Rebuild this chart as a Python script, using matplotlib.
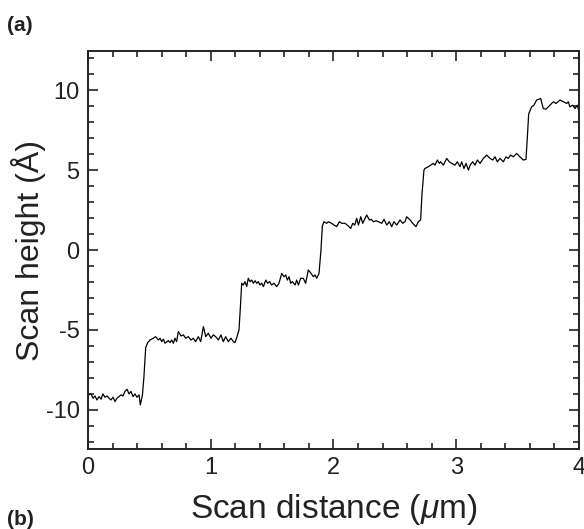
import matplotlib
matplotlib.use("Agg")
import matplotlib.pyplot as plt
from matplotlib.ticker import MultipleLocator

plt.rcParams['font.family'] = ['Liberation Sans', 'DejaVu Sans']
plt.rcParams['mathtext.fontset'] = 'custom'
plt.rcParams['mathtext.rm'] = 'Liberation Sans'
plt.rcParams['mathtext.it'] = 'Liberation Sans:italic'
plt.rcParams['axes.unicode_minus'] = False

# Scan profile (distance in um, height in Angstrom)
scan_distance = [
    0.000, 0.008, 0.024, 0.041, 0.057, 0.073, 0.090, 0.106, 0.122, 0.138,
    0.155, 0.171, 0.187, 0.204, 0.220, 0.236, 0.253, 0.269, 0.285, 0.301,
    0.318, 0.334, 0.350, 0.367, 0.383, 0.399, 0.416, 0.426, 0.443, 0.455,
    0.470, 0.486,
    0.505, 0.532, 0.551, 0.573, 0.587, 0.600, 0.614, 0.627, 0.655, 0.668,
    0.682, 0.695, 0.709, 0.722, 0.736, 0.758, 0.777, 0.796, 0.817, 0.839,
    0.858, 0.877, 0.899, 0.918, 0.940, 0.959, 0.980, 1.002, 1.021, 1.040,
    1.062, 1.083, 1.102, 1.122, 1.143, 1.165, 1.184, 1.198, 1.214, 1.230,
    1.242,
    1.252, 1.265, 1.279, 1.293, 1.306, 1.320, 1.334, 1.347, 1.361, 1.374,
    1.388, 1.401, 1.415, 1.429, 1.448, 1.464, 1.480, 1.496, 1.516, 1.537,
    1.556, 1.578, 1.597, 1.611, 1.624, 1.638, 1.651, 1.665, 1.687, 1.700,
    1.714, 1.733, 1.754, 1.773, 1.795, 1.817, 1.836, 1.850, 1.863, 1.882,
    1.898, 1.909,
    1.923, 1.944, 1.958, 1.972, 1.985, 2.004, 2.026, 2.048, 2.067, 2.094,
    2.121, 2.140, 2.157, 2.173, 2.189, 2.203, 2.222, 2.238, 2.257, 2.271,
    2.292, 2.308, 2.325, 2.347, 2.366, 2.393, 2.412, 2.434, 2.455, 2.474,
    2.493, 2.515, 2.542, 2.564, 2.583, 2.596, 2.624, 2.645, 2.672, 2.691,
    2.710, 2.721,
    2.737, 2.745, 2.773, 2.792, 2.813, 2.827, 2.846, 2.862, 2.873, 2.895,
    2.922, 2.943, 2.963, 2.990, 3.009, 3.031, 3.044, 3.063, 3.080, 3.099,
    3.113, 3.134, 3.153, 3.172, 3.194, 3.221, 3.248, 3.275, 3.297, 3.316,
    3.335, 3.357, 3.384, 3.405, 3.424, 3.443, 3.465, 3.492, 3.519, 3.546,
    3.568, 3.579, 3.590,
    3.614, 3.633, 3.655, 3.688, 3.709, 3.731, 3.764, 3.791, 3.813, 3.845,
    3.873, 3.900, 3.913, 3.927, 3.949, 3.968, 3.987, 4.000,
]
scan_height = [
    -8.92, -9.06, -9.00, -9.27, -9.13, -9.38, -9.17, -9.33, -9.00, -9.21,
    -9.13, -9.27, -9.38, -9.21, -9.48, -9.27, -9.17, -9.06, -9.13, -8.85,
    -8.71, -9.00, -8.85, -9.17, -9.00, -9.21, -9.06, -9.69, -9.10, -8.00,
    -6.10, -5.80,
    -5.63, -5.52, -5.42, -5.63, -5.52, -5.73, -5.58, -5.83, -5.67, -5.79,
    -5.63, -5.83, -5.52, -5.73, -5.10, -5.38, -5.31, -5.52, -5.42, -5.63,
    -5.52, -5.73, -5.42, -5.73, -4.79, -5.42, -5.21, -5.52, -5.31, -5.42,
    -5.63, -5.31, -5.73, -5.42, -5.73, -5.52, -5.73, -5.79, -5.42, -5.00,
    -3.50,
    -2.08, -2.19, -1.98, -2.29, -1.77, -1.98, -1.88, -2.08, -1.92, -2.08,
    -1.98, -2.19, -2.08, -2.29, -1.88, -2.08, -1.98, -2.19, -2.08, -2.29,
    -2.08, -1.46, -1.67, -1.56, -1.88, -1.67, -2.08, -1.98, -2.19, -1.88,
    -2.19, -1.77, -1.77, -2.08, -1.25, -1.46, -1.67, -1.56, -1.77, -1.46,
    0.00, 1.50,
    1.77, 1.67, 1.77, 1.71, 1.67, 1.56, 1.46, 1.77, 1.67, 1.67,
    1.50, 1.35, 1.67, 1.56, 1.98, 1.56, 2.08, 1.67, 1.98, 2.19,
    1.88, 1.92, 1.77, 1.83, 1.77, 1.67, 1.92, 1.56, 1.77, 1.46,
    1.77, 1.56, 1.88, 1.67, 1.77, 2.08, 1.88, 1.67, 1.46, 1.77,
    1.88, 3.50,
    5.00, 5.10, 5.21, 5.31, 5.42, 5.31, 5.63, 5.42, 5.52, 5.31,
    5.73, 5.52, 5.42, 5.31, 5.52, 5.21, 5.52, 5.10, 5.42, 5.00,
    5.31, 5.52, 5.31, 5.63, 5.42, 5.73, 5.94, 5.73, 5.63, 5.83,
    5.52, 5.73, 5.52, 5.83, 5.73, 5.94, 5.83, 6.04, 5.83, 5.63,
    5.67, 7.00, 8.50,
    8.96, 9.06, 9.38, 9.48, 8.85, 8.81, 9.06, 9.27, 9.17, 9.38,
    9.27, 9.17, 9.27, 8.96, 9.06, 8.85, 9.06, 8.65,
]

x_ticks = [0, 1, 2, 3, 4]
y_ticks = [-10, -5, 0, 5, 10]

fig = plt.figure(figsize=(5.84, 5.29), dpi=100)
ax = fig.add_axes([0.1507, 0.1512, 0.8407, 0.7524])

ax.plot(scan_distance, scan_height, color='black', linewidth=0.9)

ax.set_xlim(0, 4)
ax.set_ylim(-12.45, 12.45)
ax.set_xticks(x_ticks)
ax.set_yticks(y_ticks)
ax.xaxis.set_minor_locator(MultipleLocator(0.2))
ax.yaxis.set_minor_locator(MultipleLocator(1))
ax.tick_params(which='both', direction='in', top=True, right=True,
               width=1.2, labelsize=17, colors='#222222')
ax.tick_params(which='major', length=7, pad=6)
ax.tick_params(which='minor', length=4)
for spine in ax.spines.values():
    spine.set_linewidth(1.4)
    spine.set_color('#222222')

ax.set_xlabel(r'Scan distance ($\mathit{\mu}$m)', fontsize=24, labelpad=9,
              color='#222222')
ax.set_ylabel('Scan height (Å)', fontsize=23, color='#222222')
ax.yaxis.set_label_coords(-0.085, 0.5)

fig.text(0.012, 0.951, '(a)', fontsize=15, fontweight='bold', va='center',
         color='#222222')
fig.text(0.012, 0.018, '(b)', fontsize=15, fontweight='bold', va='center',
         color='#222222')

fig.savefig('out.png', dpi=100)
